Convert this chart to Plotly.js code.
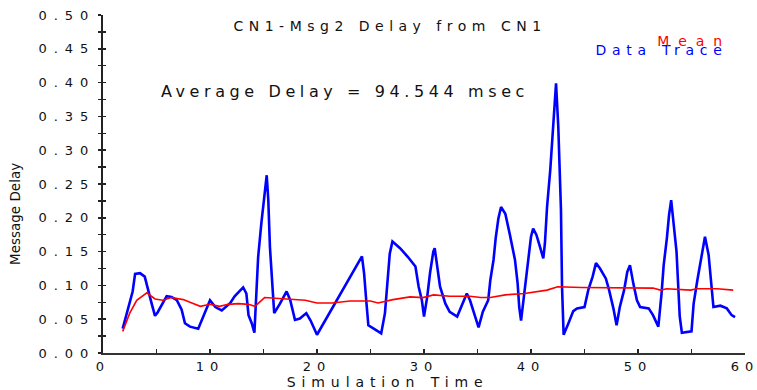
<!DOCTYPE html>
<html>
<head>
<meta charset="utf-8">
<script src="https://cdn.plot.ly/plotly-3.0.1.min.js"></script>
<style>
html,body{margin:0;padding:0;background:#fff;}
#chart{width:757px;height:390px;}
.xtick text{letter-spacing:6px;}
.ytick text{letter-spacing:7px;}
.gtitle{letter-spacing:5.5px;}
.annotation[data-index="0"] text{letter-spacing:4.6px;}
.annotation[data-index="1"] text{letter-spacing:5.7px;}
.annotation[data-index="2"] text{letter-spacing:8.9px;}
.annotation[data-index="3"] text{letter-spacing:5.9px;}
</style>
</head>
<body>
<div id="chart"></div>
<script>
// Data Trace (blue)
const traceTime = [1.84,2.15,2.5,2.77,3.0,3.46,3.9,4.2,4.55,4.86,5.1,5.95,6.4,6.9,7.35,7.66,8.13,8.9,9.35,10.0,10.5,11.1,11.9,12.3,13.1,13.4,13.6,13.9,14.15,14.27,14.36,14.5,14.8,15.08,15.3,15.45,15.6,15.86,16.0,16.54,17.16,17.5,17.94,18.4,19.0,19.4,20.0,24.2,24.4,24.6,24.8,25.3,26.0,26.35,26.6,26.8,27.05,27.76,28.5,29.2,29.5,29.8,30.0,30.3,30.56,30.87,31.0,31.25,31.5,32.0,32.4,33.1,33.6,34.0,34.3,34.8,35.1,35.5,36.0,36.2,36.5,36.7,36.95,37.2,37.6,38.0,38.5,38.75,38.9,39.07,39.3,39.5,39.75,40.0,40.2,40.5,40.84,41.15,41.3,41.5,41.8,42.0,42.2,42.34,42.55,42.8,42.9,43.05,43.5,43.95,44.3,45.0,45.35,45.76,46.07,46.45,47.0,47.3,47.7,48.0,48.3,48.7,49.0,49.25,49.56,49.9,50.2,51.0,51.4,51.9,52.2,52.4,52.7,52.9,53.1,53.3,53.6,53.9,54.1,55.0,55.2,55.55,55.95,56.26,56.6,56.8,57.05,57.7,58.3,58.75,59.07];
const traceDelay = [0.036,0.054,0.074,0.091,0.117,0.118,0.113,0.093,0.073,0.055,0.060,0.084,0.083,0.078,0.064,0.044,0.039,0.036,0.054,0.078,0.068,0.063,0.074,0.084,0.097,0.088,0.056,0.044,0.030,0.068,0.098,0.142,0.192,0.236,0.263,0.226,0.157,0.093,0.059,0.073,0.091,0.078,0.049,0.051,0.059,0.048,0.027,0.143,0.118,0.078,0.041,0.036,0.029,0.059,0.113,0.147,0.165,0.155,0.142,0.128,0.098,0.078,0.054,0.083,0.118,0.150,0.155,0.123,0.098,0.073,0.061,0.054,0.073,0.088,0.078,0.054,0.038,0.061,0.078,0.108,0.138,0.170,0.199,0.216,0.206,0.177,0.138,0.103,0.068,0.048,0.078,0.113,0.142,0.172,0.184,0.175,0.157,0.140,0.162,0.216,0.271,0.320,0.372,0.399,0.335,0.212,0.098,0.027,0.044,0.062,0.066,0.068,0.093,0.113,0.133,0.125,0.110,0.093,0.066,0.041,0.068,0.093,0.120,0.130,0.103,0.078,0.068,0.066,0.056,0.039,0.088,0.130,0.170,0.204,0.226,0.192,0.150,0.054,0.030,0.032,0.073,0.108,0.145,0.172,0.145,0.108,0.068,0.070,0.066,0.056,0.053];

// Mean (red)
const meanTime = [1.84,2.5,3.15,4.1,4.86,5.6,6.4,7.5,8.3,9.1,10.0,10.9,11.7,12.65,13.6,14.2,15.1,16.05,17.6,18.9,20.0,21.4,23.1,25.0,25.7,27.1,28.7,29.9,30.9,32.4,34.3,35.3,36.2,37.6,39.4,41.5,42.5,44.7,51.4,52.1,52.7,54.9,55.5,57.4,58.9];
const meanDelay = [0.032,0.059,0.078,0.089,0.080,0.078,0.082,0.079,0.074,0.069,0.072,0.069,0.072,0.073,0.072,0.069,0.082,0.081,0.080,0.078,0.074,0.074,0.077,0.077,0.074,0.079,0.083,0.082,0.086,0.084,0.084,0.082,0.082,0.086,0.088,0.093,0.098,0.097,0.096,0.093,0.095,0.093,0.095,0.095,0.093];

// Axis ticks and labels
const xTickVals = [0,10,20,30,40,50,60];
const xTickText = ['0','10','20','30','40','50','60'];
const xMinorVals = [5,15,25,35,45,55];
const yTickVals = [0,0.025,0.05,0.075,0.10,0.125,0.15,0.175,0.20,0.225,0.25,0.275,0.30,0.325,0.35,0.375,0.40,0.425,0.45,0.475,0.50];
const yTickText = ['0.00','','0.05','','0.10','','0.15','','0.20','','0.25','','0.30','','0.35','','0.40','','0.45','','0.50'];

const chartTitle = 'CN1-Msg2 Delay from CN1';
const avgText = 'Average Delay = 94.544 msec';
const xTitle = 'Simulation Time';
const yTitle = 'Message Delay';

const wideFont = 'DejaVu Sans';
const txtColor = '#111';

const traces = [
  {x: traceTime, y: traceDelay, type:'scatter', mode:'lines', name:'Data Trace',
   line:{color:'#0000ff', width:2.6}, xaxis:'x', yaxis:'y'},
  {x: meanTime, y: meanDelay, type:'scatter', mode:'lines', name:'Mean',
   line:{color:'#ff0000', width:1.6}, xaxis:'x', yaxis:'y2'}
];

const layout = {
  width:757, height:390,
  margin:{l:103, r:12, t:15, b:37, pad:0},
  paper_bgcolor:'#fff', plot_bgcolor:'#fff',
  showlegend:false,
  title:{text:chartTitle, xref:'container', x:0.5152, xanchor:'center',
         yref:'container', y:0.9333, yanchor:'middle',
         font:{family:wideFont, size:14, color:txtColor}},
  xaxis:{range:[0,60], tickmode:'array', tickvals:xTickVals, ticktext:xTickText, ticklabeloverflow:'allow',
         ticks:'inside', ticklen:4, tickwidth:1.5, tickcolor:'#222',
         minor:{tickmode:'array', tickvals:xMinorVals, ticks:'inside', ticklen:4, tickwidth:1.5, tickcolor:'#222'},
         showline:true, linecolor:'#333', linewidth:2, showgrid:false, zeroline:false,
         tickfont:{family:wideFont, size:13, color:txtColor}},
  yaxis:{range:[0,0.5], tickmode:'array', tickvals:yTickVals, ticktext:yTickText, ticklabeloverflow:'allow',
         ticks:'outside', ticklen:3, tickwidth:1.5, tickcolor:'#222',
         showline:true, linecolor:'#222', linewidth:2, showgrid:false, zeroline:false,
         tickfont:{family:wideFont, size:13, color:txtColor}},
  yaxis2:{overlaying:'y', side:'left', range:[0,0.5], tickmode:'array', tickvals:yTickVals,
          ticks:'inside', ticklen:3, tickwidth:1.5, tickcolor:'#222',
          showticklabels:false, showline:false, showgrid:false, zeroline:false},
  annotations:[
    {text:avgText, xref:'paper', yref:'paper', x:0.3762, y:0.7722, xanchor:'center', yanchor:'middle',
     showarrow:false, font:{family:wideFont, size:16, color:txtColor}},
    {text:'Data Trace', xref:'paper', yref:'paper', x:0.8692, y:0.8964, xanchor:'center', yanchor:'middle',
     showarrow:false, font:{family:wideFont, size:14, color:'#0000ff'}},
    {text:'Mean', xref:'paper', yref:'paper', x:0.9206, y:0.9231, xanchor:'center', yanchor:'middle',
     showarrow:false, font:{family:wideFont, size:14, color:'#ff0000'}},
    {text:xTitle, xref:'paper', yref:'paper', x:0.4439, y:-0.0858, xanchor:'center', yanchor:'middle',
     showarrow:false, font:{family:wideFont, size:14, color:txtColor}},
    {text:yTitle, xref:'paper', yref:'paper', x:-0.1371, y:0.4112, xanchor:'center', yanchor:'middle',
     textangle:-90, showarrow:false, font:{family:wideFont, size:13.5, color:txtColor}}
  ]
};

Plotly.newPlot('chart', traces, layout, {staticPlot:true, displayModeBar:false});
</script>
</body>
</html>
